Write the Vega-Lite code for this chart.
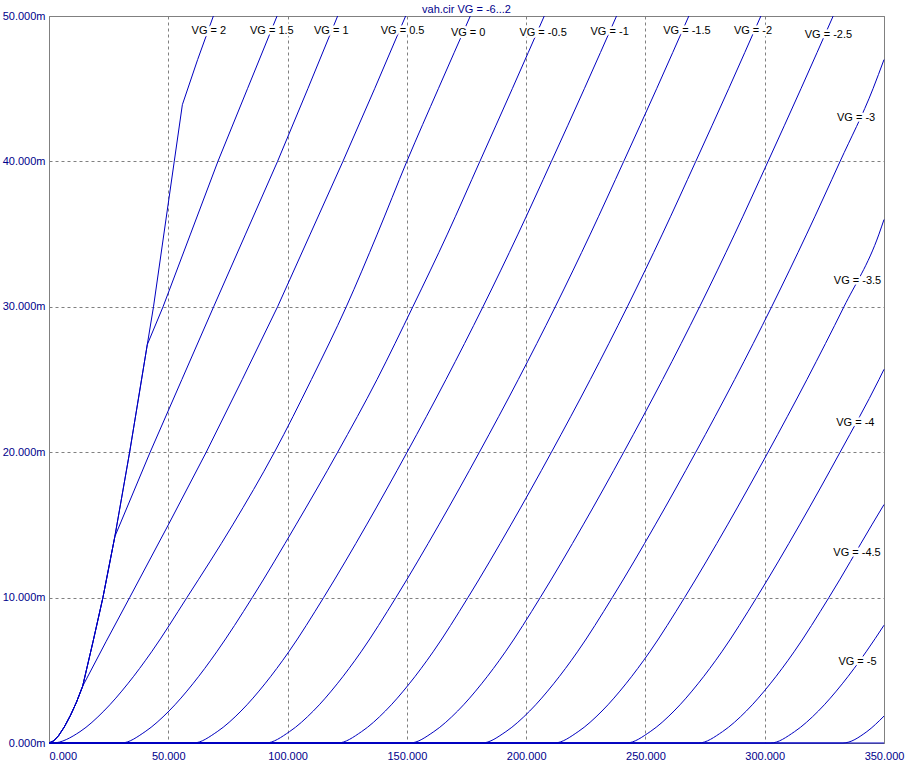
{
  "$schema": "https://vega.github.io/schema/vega-lite/v6.json",
  "width": 835,
  "height": 727,
  "autosize": "none",
  "padding": {"left": 49, "top": 16, "right": 30, "bottom": 32},
  "background": "white",
  "title": {"text": "vah.cir VG = -6...2", "fontSize": 11, "fontWeight": "normal", "color": "#00008B", "offset": 3, "dy": 8, "anchor": "middle", "font": "Liberation Sans"},
  "config": {
    "view": {"stroke": "#808080", "strokeWidth": 1},
    "font": "Liberation Sans",
    "axis": {
      "ticks": false, "domain": false, "grid": true, "gridDash": [3, 3], "gridColor": "#808080", "gridOpacity": 1, "gridWidth": 1,
      "labelColor": "#00008B", "labelFontSize": 11, "labelFont": "Liberation Sans", "title": null, "labelOverlap": false, "labelFlush": false, "labelBound": false
    }
  },
  "datasets": {
    "n": [
      {"g":"0","v":0,"i":0},{"g":"0","v":1.5,"i":0},{"g":"0","v":13,"i":0.78},{"g":"0","v":23,"i":2.2},{"g":"0","v":33,"i":4.07},{"g":"0","v":43,"i":6.27},{"g":"0","v":57.8,"i":10},{"g":"0","v":77,"i":15},{"g":"0","v":94.5,"i":20},{"g":"0","v":110,"i":25},{"g":"0","v":124.6,"i":30},{"g":"0","v":137.6,"i":35},{"g":"0","v":150,"i":40},{"g":"0","v":163.2,"i":45},{"g":"0","v":176.6,"i":50},
      {"g":"-0.5","v":0,"i":0},{"g":"-0.5","v":30.3,"i":0},{"g":"-0.5","v":40.3,"i":0.78},{"g":"-0.5","v":50.3,"i":2.2},{"g":"-0.5","v":60.3,"i":4.07},{"g":"-0.5","v":70.3,"i":6.27},{"g":"-0.5","v":85.2,"i":10},{"g":"-0.5","v":103.5,"i":15},{"g":"-0.5","v":121,"i":20},{"g":"-0.5","v":137.5,"i":25},{"g":"-0.5","v":152.5,"i":30},{"g":"-0.5","v":167,"i":35},{"g":"-0.5","v":180.6,"i":40},{"g":"-0.5","v":194.2,"i":45},{"g":"-0.5","v":207.6,"i":50},
      {"g":"-1","v":0,"i":0},{"g":"-1","v":60.5,"i":0},{"g":"-1","v":70.5,"i":0.78},{"g":"-1","v":80.5,"i":2.2},{"g":"-1","v":90.5,"i":4.07},{"g":"-1","v":100.5,"i":6.27},{"g":"-1","v":115.1,"i":10},{"g":"-1","v":133.1,"i":15},{"g":"-1","v":150.1,"i":20},{"g":"-1","v":166.4,"i":25},{"g":"-1","v":181.9,"i":30},{"g":"-1","v":196.6,"i":35},{"g":"-1","v":210.6,"i":40},{"g":"-1","v":224.4,"i":45},{"g":"-1","v":237.9,"i":50},
      {"g":"-1.5","v":0,"i":0},{"g":"-1.5","v":90.8,"i":0},{"g":"-1.5","v":100.8,"i":0.78},{"g":"-1.5","v":110.8,"i":2.2},{"g":"-1.5","v":120.8,"i":4.07},{"g":"-1.5","v":130.8,"i":6.27},{"g":"-1.5","v":145.4,"i":10},{"g":"-1.5","v":163.4,"i":15},{"g":"-1.5","v":180.4,"i":20},{"g":"-1.5","v":196.7,"i":25},{"g":"-1.5","v":212.2,"i":30},{"g":"-1.5","v":226.9,"i":35},{"g":"-1.5","v":240.9,"i":40},{"g":"-1.5","v":254.7,"i":45},{"g":"-1.5","v":268.2,"i":50},
      {"g":"-2","v":0,"i":0},{"g":"-2","v":121,"i":0},{"g":"-2","v":131,"i":0.78},{"g":"-2","v":141,"i":2.2},{"g":"-2","v":151,"i":4.07},{"g":"-2","v":161,"i":6.27},{"g":"-2","v":175.6,"i":10},{"g":"-2","v":193.6,"i":15},{"g":"-2","v":210.6,"i":20},{"g":"-2","v":226.9,"i":25},{"g":"-2","v":242.4,"i":30},{"g":"-2","v":257.1,"i":35},{"g":"-2","v":271.1,"i":40},{"g":"-2","v":284.9,"i":45},{"g":"-2","v":298.4,"i":50},
      {"g":"-2.5","v":0,"i":0},{"g":"-2.5","v":151.3,"i":0},{"g":"-2.5","v":161.3,"i":0.78},{"g":"-2.5","v":171.3,"i":2.2},{"g":"-2.5","v":181.3,"i":4.07},{"g":"-2.5","v":191.3,"i":6.27},{"g":"-2.5","v":205.9,"i":10},{"g":"-2.5","v":223.9,"i":15},{"g":"-2.5","v":240.9,"i":20},{"g":"-2.5","v":257.2,"i":25},{"g":"-2.5","v":272.7,"i":30},{"g":"-2.5","v":287.4,"i":35},{"g":"-2.5","v":301.4,"i":40},{"g":"-2.5","v":315.2,"i":45},{"g":"-2.5","v":328.7,"i":50},
      {"g":"-3","v":0,"i":0},{"g":"-3","v":181.5,"i":0},{"g":"-3","v":191.5,"i":0.78},{"g":"-3","v":201.5,"i":2.2},{"g":"-3","v":211.5,"i":4.07},{"g":"-3","v":221.5,"i":6.27},{"g":"-3","v":236.1,"i":10},{"g":"-3","v":254.1,"i":15},{"g":"-3","v":271.1,"i":20},{"g":"-3","v":287.4,"i":25},{"g":"-3","v":302.9,"i":30},{"g":"-3","v":317.6,"i":35},{"g":"-3","v":331.6,"i":40},{"g":"-3","v":345.4,"i":45},{"g":"-3","v":350,"i":47.0},
      {"g":"-3.5","v":0,"i":0},{"g":"-3.5","v":211.8,"i":0},{"g":"-3.5","v":221.8,"i":0.78},{"g":"-3.5","v":231.8,"i":2.2},{"g":"-3.5","v":241.8,"i":4.07},{"g":"-3.5","v":251.8,"i":6.27},{"g":"-3.5","v":266.4,"i":10},{"g":"-3.5","v":284.4,"i":15},{"g":"-3.5","v":301.4,"i":20},{"g":"-3.5","v":317.7,"i":25},{"g":"-3.5","v":333.2,"i":30},{"g":"-3.5","v":347.9,"i":35},{"g":"-3.5","v":350,"i":36.0},
      {"g":"-4","v":0,"i":0},{"g":"-4","v":242,"i":0},{"g":"-4","v":252,"i":0.78},{"g":"-4","v":262,"i":2.2},{"g":"-4","v":272,"i":4.07},{"g":"-4","v":282,"i":6.27},{"g":"-4","v":296.6,"i":10},{"g":"-4","v":314.6,"i":15},{"g":"-4","v":331.6,"i":20},{"g":"-4","v":347.9,"i":25},{"g":"-4","v":350,"i":25.7},
      {"g":"-4.5","v":0,"i":0},{"g":"-4.5","v":272.3,"i":0},{"g":"-4.5","v":282.3,"i":0.78},{"g":"-4.5","v":292.3,"i":2.2},{"g":"-4.5","v":302.3,"i":4.07},{"g":"-4.5","v":312.3,"i":6.27},{"g":"-4.5","v":326.9,"i":10},{"g":"-4.5","v":344.9,"i":15},{"g":"-4.5","v":350,"i":16.4},
      {"g":"-5","v":0,"i":0},{"g":"-5","v":302.5,"i":0},{"g":"-5","v":312.5,"i":0.78},{"g":"-5","v":322.5,"i":2.2},{"g":"-5","v":332.5,"i":4.07},{"g":"-5","v":342.5,"i":6.27},{"g":"-5","v":350,"i":8.1},
      {"g":"-5.5","v":0,"i":0},{"g":"-5.5","v":332.8,"i":0},{"g":"-5.5","v":342.8,"i":0.78},{"g":"-5.5","v":350,"i":1.85},
      {"g":"-6","v":0,"i":0},{"g":"-6","v":350,"i":0}
    ],
    "p": [
      {"g":"2","v":0,"i":0},{"g":"2","v":2,"i":0.15},{"g":"2","v":4,"i":0.5},{"g":"2","v":6.4,"i":1.1},{"g":"2","v":9,"i":1.9},{"g":"2","v":11.5,"i":2.8},{"g":"2","v":14.1,"i":3.9},{"g":"2","v":18.5,"i":7},{"g":"2","v":22.6,"i":10},{"g":"2","v":27.6,"i":14.2},{"g":"2","v":33.8,"i":20},{"g":"2","v":41.2,"i":27.4},{"g":"2","v":43.8,"i":30},{"g":"2","v":52.5,"i":40},{"g":"2","v":55.9,"i":43.9},{"g":"2","v":62.3,"i":47},{"g":"2","v":68.9,"i":50},
      {"g":"1.5","v":0,"i":0},{"g":"1.5","v":2,"i":0.15},{"g":"1.5","v":4,"i":0.5},{"g":"1.5","v":6.4,"i":1.1},{"g":"1.5","v":9,"i":1.9},{"g":"1.5","v":11.5,"i":2.8},{"g":"1.5","v":14.1,"i":3.9},{"g":"1.5","v":18.5,"i":7},{"g":"1.5","v":22.6,"i":10},{"g":"1.5","v":27.6,"i":14.2},{"g":"1.5","v":33.8,"i":20},{"g":"1.5","v":41.2,"i":27.4},{"g":"1.5","v":47.8,"i":30},{"g":"1.5","v":59.3,"i":35},{"g":"1.5","v":70.8,"i":40},{"g":"1.5","v":83.2,"i":45},{"g":"1.5","v":95.6,"i":50},
      {"g":"1","v":0,"i":0},{"g":"1","v":2,"i":0.15},{"g":"1","v":4,"i":0.5},{"g":"1","v":6.4,"i":1.1},{"g":"1","v":9,"i":1.9},{"g":"1","v":11.5,"i":2.8},{"g":"1","v":14.1,"i":3.9},{"g":"1","v":18.5,"i":7},{"g":"1","v":22.6,"i":10},{"g":"1","v":27.6,"i":14.2},{"g":"1","v":42.4,"i":20},{"g":"1","v":55.7,"i":25},{"g":"1","v":69,"i":30},{"g":"1","v":82.4,"i":35},{"g":"1","v":95.8,"i":40},{"g":"1","v":108.5,"i":45},{"g":"1","v":121,"i":50},
      {"g":"0.5","v":0,"i":0},{"g":"0.5","v":2,"i":0.15},{"g":"0.5","v":4,"i":0.5},{"g":"0.5","v":6.4,"i":1.1},{"g":"0.5","v":9,"i":1.9},{"g":"0.5","v":11.5,"i":2.8},{"g":"0.5","v":14.1,"i":3.9},{"g":"0.5","v":24,"i":7},{"g":"0.5","v":33.8,"i":10},{"g":"0.5","v":50,"i":15},{"g":"0.5","v":65.9,"i":20},{"g":"0.5","v":81,"i":25},{"g":"0.5","v":95.8,"i":30},{"g":"0.5","v":109.5,"i":35},{"g":"0.5","v":123.2,"i":40},{"g":"0.5","v":136.5,"i":45},{"g":"0.5","v":149.5,"i":50}
    ],
    "lab": [
      {"t":"VG = 2","v":67.0,"i":49.0},
      {"t":"VG = 1.5","v":93.4,"i":49.0},
      {"t":"VG = 1","v":118.3,"i":49.0},
      {"t":"VG = 0.5","v":148.2,"i":49.0},
      {"t":"VG = 0","v":175.7,"i":48.8},
      {"t":"VG = -0.5","v":207.1,"i":48.8},
      {"t":"VG = -1","v":235.0,"i":48.9},
      {"t":"VG = -1.5","v":267.4,"i":48.95},
      {"t":"VG = -2","v":295.1,"i":48.95},
      {"t":"VG = -2.5","v":326.7,"i":48.7},
      {"t":"VG = -3","v":338.3,"i":43.0},
      {"t":"VG = -3.5","v":338.9,"i":31.8},
      {"t":"VG = -4","v":338.0,"i":22.0},
      {"t":"VG = -4.5","v":338.7,"i":13.1},
      {"t":"VG = -5","v":338.9,"i":5.57}
    ]
  },
  "encoding": {
    "x": {"field": "v", "type": "quantitative", "scale": {"domain": [0, 350], "nice": false, "zero": false},
      "axis": {"values": [0, 50, 100, 150, 200, 250, 300, 350], "format": ".3f", "labelPadding": 7,
        "labelAlign": {"condition": {"test": "datum.value == 0", "value": "left"}, "value": "center"}}},
    "y": {"field": "i", "type": "quantitative", "scale": {"domain": [0, 50], "nice": false},
      "axis": {"values": [0, 10, 20, 30, 40, 50], "labelExpr": "format(datum.value, '.3f') + 'm'", "labelPadding": 4}}
  },
  "layer": [
    {"data": {"name": "n"}, "mark": {"type": "line", "interpolate": "monotone", "color": "#0000C0", "strokeWidth": 1},
      "encoding": {"detail": {"field": "g"}}},
    {"data": {"name": "p"}, "mark": {"type": "line", "interpolate": "linear", "color": "#0000C0", "strokeWidth": 1},
      "encoding": {"detail": {"field": "g"}}},
    {"data": {"name": "lab"}, "mark": {"type": "text", "align": "center", "baseline": "middle", "fontSize": 11, "font": "Liberation Sans", "fill": "white", "stroke": "white", "strokeWidth": 5, "strokeJoin": "round"},
      "encoding": {"text": {"field": "t"}}},
    {"data": {"name": "lab"}, "mark": {"type": "text", "align": "center", "baseline": "middle", "fontSize": 11, "font": "Liberation Sans", "color": "black"},
      "encoding": {"text": {"field": "t"}}}
  ]
}
